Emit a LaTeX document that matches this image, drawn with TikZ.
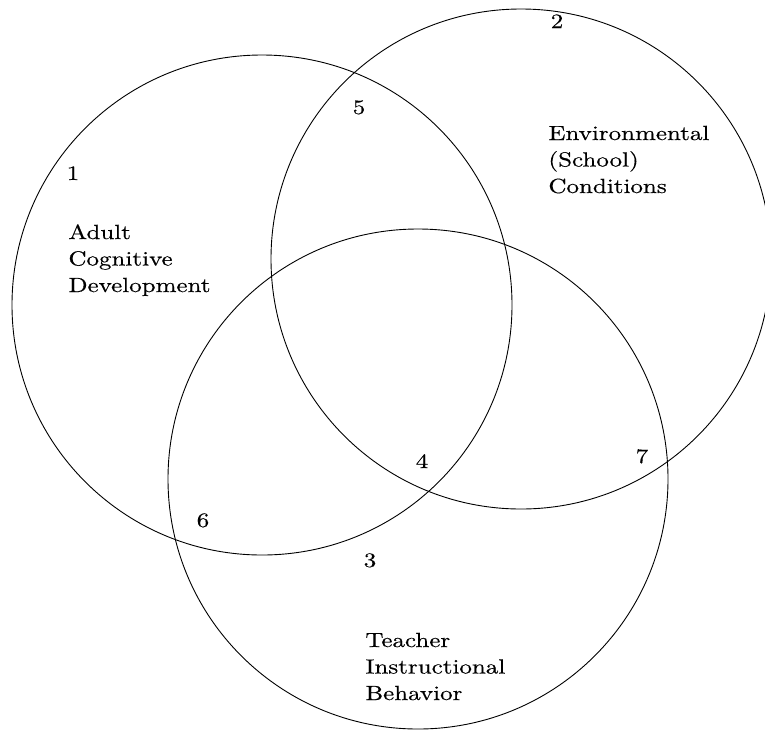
\documentclass[tikz,border=0pt]{standalone}
\usepackage{fontspec}
\setmainfont{lmroman10-regular.otf}[FakeStretch=1.22, FakeBold=0.4]
\usepackage{tikz}

\begin{document}
\begin{tikzpicture}[
            x = 1pt, y = -1pt, % one unit per pixel of the scan, y downwards
            line width = 0.9pt, % thin outline of the sets
            font = \fontsize{20.5}{26.5}\selectfont
        ]

        \tikzstyle{every area}=[
            draw = black,
            circle,
            inner sep = 0pt,
            minimum size = 500pt
        ]
        \tikzstyle{regionno}=[inner sep = 0pt, anchor = base]
        % base of a name is the baseline of its last line
        \tikzstyle{regionname}=[inner sep = 0pt, anchor = base west, align = left]

        \useasboundingbox (0,0) rectangle (765,732);

        % the three sets
        \node[every area] (adult) at (262,305) {};
        \node[every area] (school) at (521,259) {};
        \node[every area] (teacher) at (418,479) {};

        % region numbers
        \node[regionno] (r1) at (73,180) {1};
        \node[regionno] (r2) at (557,28) {2};
        \node[regionno] (r3) at (370,567) {3};
        \node[regionno] (r4) at (422,468) {4};
        \node[regionno] (r5) at (359,114) {5};
        \node[regionno] (r6) at (203,527) {6};
        \node[regionno] (r7) at (642,463) {7};

        % set names
        \node[regionname] (adultname) at (68,292) {Adult\\Cognitive\\Development};
        \node[regionname] (schoolname) at (548,193) {Environmental\\(School)\\Conditions};
        \node[regionname] (teachername) at (365,700) {Teacher\\Instructional\\Behavior};

    \end{tikzpicture}
\end{document}
